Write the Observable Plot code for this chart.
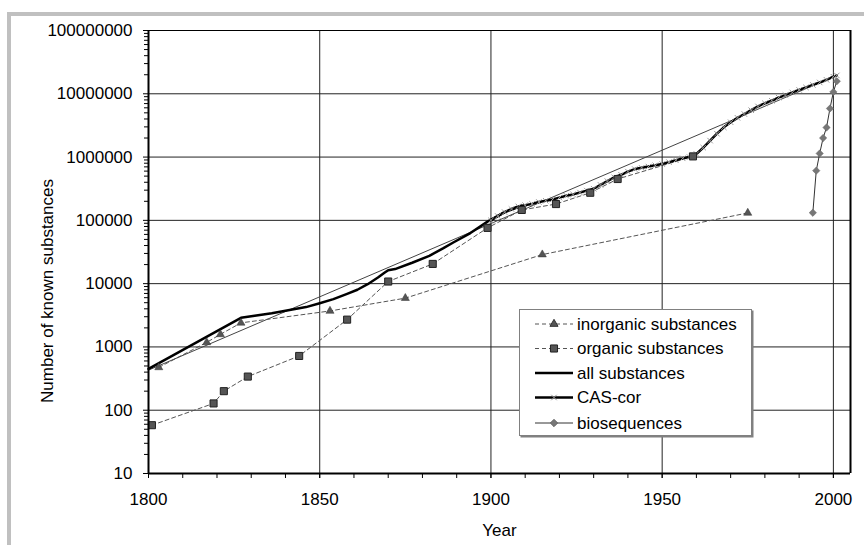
<!DOCTYPE html>
<html><head><meta charset="utf-8">
<script src="https://cdn.jsdelivr.net/npm/d3@7"></script>
<script src="https://cdn.jsdelivr.net/npm/@observablehq/plot@0.6"></script>
<style>
body{margin:0;background:#fff;font-family:"Liberation Sans",Arial,sans-serif;}
#wrap{position:relative;width:864px;height:545px;overflow:hidden;background:#fff;}
#border{position:absolute;left:7px;top:12px;width:900px;height:600px;border-top:4px solid #c0c0c0;border-left:4px solid #c0c0c0;}
#wrap svg.plotsvg{position:absolute;left:0;top:0;}
#legend{position:absolute;left:519px;top:309px;}
</style></head><body><div id="wrap"><div id="border"></div></div>
<script>
// ---- data ----
const inorgYears = [1803, 1817, 1821, 1827, 1853, 1875, 1915, 1975];
const inorgValues = [475, 1180, 1580, 2400, 3700, 5900, 28800, 131000];

const orgYears = [1801, 1819, 1822, 1829, 1844, 1858, 1870, 1883, 1899, 1909, 1919, 1929, 1937, 1959];
const orgValues = [58, 128, 200, 340, 720, 2700, 10800, 20500, 76000, 146000, 181000, 273000, 450000, 1025000];

const allYears = [1800, 1827, 1831, 1836, 1842, 1846, 1850, 1854, 1858, 1861, 1864, 1867, 1869, 1870, 1872, 1877, 1882, 1886, 1889, 1894, 1899, 1904, 1909];
const allValues = [450, 2880, 3100, 3400, 3900, 4260, 4900, 5700, 6900, 8000, 9800, 12500, 15000, 16300, 17000, 21400, 27500, 36000, 44700, 63000, 95500, 135000, 170000];

const casYears = [1900, 1902, 1904, 1906, 1908, 1910, 1912, 1914, 1916, 1918, 1920, 1922, 1924, 1926, 1928, 1930, 1932, 1934, 1936, 1938, 1940, 1942, 1944, 1946, 1948, 1950, 1952, 1954, 1956, 1958, 1960, 1962, 1964, 1966, 1968, 1970, 1972, 1974, 1976, 1978, 1980, 1982, 1984, 1986, 1988, 1990, 1992, 1994, 1996, 1998, 2000, 2001];
const casValues = [100000, 117000, 135000, 151000, 166000, 174000, 182000, 195000, 204000, 214000, 229000, 245000, 257000, 275000, 295000, 316000, 363000, 417000, 479000, 525000, 589000, 646000, 676000, 708000, 741000, 776000, 832000, 891000, 955000, 1000000, 1120000, 1410000, 1820000, 2340000, 2950000, 3550000, 4170000, 4790000, 5500000, 6310000, 7080000, 7760000, 8710000, 9550000, 10500000, 11500000, 12600000, 13800000, 15100000, 16600000, 18600000, 19500000];

const bioYears = [1994, 1995, 1996, 1997, 1998, 1999, 2000, 2001];
const bioValues = [132000, 610000, 1140000, 2000000, 2930000, 5850000, 10700000, 15800000];

const trendYears = [1800, 2001];
const trendValues = [430, 19500000];

const yTicks = [10, 100, 1000, 10000, 100000, 1000000, 10000000, 100000000];
const xTicks = [1800, 1850, 1900, 1950, 2000];
const seriesNames = ["inorganic substances", "organic substances", "all substances", "CAS-cor", "biosequences"];

// ---- build ----
const rows = (xs, ys) => xs.map((x, i) => ({year: x, value: ys[i]}));
const inorg = rows(inorgYears, inorgValues);
const org = rows(orgYears, orgValues);
const all = rows(allYears, allValues);
const cas = rows(casYears, casValues);
const bio = rows(bioYears, bioValues);
const trend = rows(trendYears, trendValues);

const minorY = [];
yTicks.slice(0, -1).forEach(d => { for (let m = 2; m <= 9; m++) minorY.push(m * d); });
const minorX = d3.range(1800, 2001, 10);

const xy = {x: "year", y: "value"};
const chart = Plot.plot({
  width: 864, height: 545,
  marginLeft: 148, marginRight: 14, marginTop: 30, marginBottom: 72,
  style: {fontFamily: '"Liberation Sans", Arial, sans-serif', fontSize: "17px", background: "transparent", color: "#000"},
  x: {domain: [1800, 2005], label: null},
  y: {type: "log", domain: [10, 1e8], label: null},
  marks: [
    Plot.ruleY(yTicks.slice(1, -1), {stroke: "#222", strokeWidth: 1}),
    Plot.ruleX(xTicks.slice(1), {stroke: "#222", strokeWidth: 1}),
    Plot.line(trend, {...xy, stroke: "#444", strokeWidth: 1}),
    Plot.line(inorg, {...xy, stroke: "#555", strokeWidth: 1, strokeDasharray: "4,3"}),
    Plot.line(org, {...xy, stroke: "#555", strokeWidth: 1, strokeDasharray: "4,3"}),
    Plot.line(all, {...xy, stroke: "#000", strokeWidth: 2.5}),
    Plot.line(cas, {...xy, stroke: "#000", strokeWidth: 2.5}),
    Plot.dot(cas, {...xy, symbol: "times", r: 2.6, stroke: "#9a9a9a", strokeWidth: 1}),
    Plot.line(bio, {...xy, stroke: "#333", strokeWidth: 1}),
    Plot.dot(inorg, {...xy, symbol: "triangle", r: 3, fill: "#555", stroke: "#333", strokeWidth: 0.5}),
    Plot.dot(org, {...xy, symbol: "square", r: 4, fill: "#555", stroke: "#222", strokeWidth: 1}),
    Plot.dot(bio, {...xy, symbol: "diamond2", r: 3.3, fill: "#777", stroke: "#666", strokeWidth: 0.5}),
    // frame
    Plot.ruleY([1e8], {stroke: "#000", strokeWidth: 1}),
    Plot.ruleX([2005], {stroke: "#000", strokeWidth: 2}),
    Plot.ruleX([1800], {stroke: "#000", strokeWidth: 2}),
    Plot.ruleY([10], {stroke: "#000", strokeWidth: 2}),
    // axes
    Plot.axisY(minorY, {tickSize: 4, tickFormat: () => ""}),
    Plot.axisY(yTicks, {tickSize: 5, tickPadding: 11, tickFormat: "d"}),
    Plot.axisX(minorX, {tickSize: 5, tickFormat: () => ""}),
    Plot.axisX(xTicks, {tickSize: 5, tickPadding: 14, tickFormat: "d"}),
    Plot.text(["Year"], {frameAnchor: "bottom", dy: 57, fontSize: 17, textAnchor: "middle", lineAnchor: "middle"}),
    Plot.text(["Number of known substances"], {frameAnchor: "left", dx: -101, dy: 39, rotate: -90, fontSize: 17, textAnchor: "middle", lineAnchor: "middle"})
  ]
});
chart.classList.add("plotsvg");
document.getElementById("wrap").appendChild(chart);

// ---- legend ----
const lg = d3.select("#wrap").append("svg").attr("id", "legend").attr("width", 236).attr("height", 130)
  .style("font-family", '"Liberation Sans", Arial, sans-serif').style("font-size", "17px");
lg.append("rect").attr("x", 1.5).attr("y", 1.5).attr("width", 233).attr("height", 127).attr("fill", "#808080");
lg.append("rect").attr("x", 0.5).attr("y", 0.5).attr("width", 232).attr("height", 126).attr("fill", "#fff").attr("stroke", "#808080");
const rowY = [15, 39.5, 64, 88.5, 114];
const styles = [
  {stroke: "#555", w: 1, dash: "4,3", sym: d3.symbolTriangle, size: Math.PI * 9, fill: "#555", mstroke: "#333"},
  {stroke: "#555", w: 1, dash: "4,3", sym: d3.symbolSquare, size: Math.PI * 16, fill: "#555", mstroke: "#222"},
  {stroke: "#000", w: 2.5, dash: null, sym: null},
  {stroke: "#000", w: 2.5, dash: null, sym: d3.symbolTimes, size: Math.PI * 6.76, fill: "none", mstroke: "#9a9a9a"},
  {stroke: "#333", w: 1, dash: null, sym: d3.symbolDiamond2, size: Math.PI * 10.9, fill: "#777", mstroke: "#666"}
];
seriesNames.forEach((name, i) => {
  const s = styles[i], y = rowY[i];
  const ln = lg.append("line").attr("x1", 16).attr("x2", 54).attr("y1", y).attr("y2", y)
    .attr("stroke", s.stroke).attr("stroke-width", s.w);
  if (s.dash) ln.attr("stroke-dasharray", s.dash);
  if (s.sym) lg.append("path").attr("d", d3.symbol(s.sym, s.size)()).attr("transform", `translate(35,${y})`)
    .attr("fill", s.fill).attr("stroke", s.mstroke).attr("stroke-width", 1);
  lg.append("text").attr("x", 58).attr("y", y).attr("dy", "0.35em").text(name);
});
</script>
</body></html>
